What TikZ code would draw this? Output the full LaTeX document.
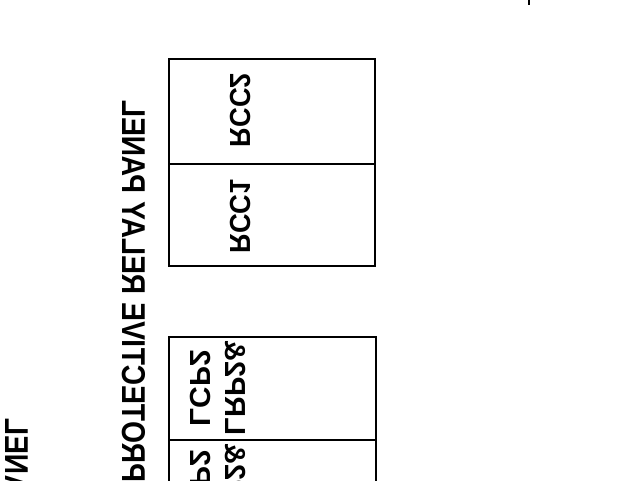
\documentclass[tikz,border=0pt]{standalone}
\usepackage{fontspec}
\setmainfont{Liberation Sans}
\newcommand{\mirtxt}[2]{\scalebox{#1}[-1]{#2}}
\begin{document}
\begin{tikzpicture}[x=1pt,y=-1pt,
  cell/.style={draw, line width=2pt, inner sep=0pt},
  lbl/.style={rotate=90, inner sep=0pt, font=\bfseries\fontsize{29}{34}\selectfont},
  title/.style={rotate=90, inner sep=0pt, font=\bfseries\fontsize{33}{38}\selectfont}]
\useasboundingbox (0,0) rectangle (640,480);
\clip (0,0) rectangle (640,480);
% relay panel cells
\node[cell, minimum width=206pt, minimum height=105pt] (rcc2box) at (272,111.5) {};
\node[cell, minimum width=206pt, minimum height=102pt] (rcc1box) at (272,215) {};
\node[cell, minimum width=207pt, minimum height=103pt] (lcpbox) at (272.5,388.5) {};
\node[cell, minimum width=207pt, minimum height=105pt] (lcpboxb) at (272.5,492.5) {};
% labels
\node[lbl] (rcc2) at (240,110) {\mirtxt{0.94}{RCC2}};
\node[lbl] (rcc1) at (240,216.5) {\mirtxt{0.94}{RCC1}};
\node[lbl, anchor=east] (lcp2) at (200,350) {\mirtxt{1.03}{LCP2}};
\node[lbl, anchor=east] (lrp2) at (235,340) {\mirtxt{1}{LRP2\&}};
\node[lbl, anchor=east] (lcp2b) at (200,450) {\mirtxt{1.03}{LCP2}};
\node[lbl, anchor=east] (lrp2b) at (235,443) {\mirtxt{1}{LRP2\&}};
\node[title, anchor=east] (prp) at (134,100) {\mirtxt{0.855}{PROTECTIVE RELAY PANEL}};
\node[title, anchor=east] (pnl) at (17,418) {\mirtxt{0.855}{PANEL}};
% small mark
\coordinate (m1) at (529,0);
\coordinate (m2) at (529,5);
\draw[line width=2pt] (m1) -- (m2);
\end{tikzpicture}
\end{document}
